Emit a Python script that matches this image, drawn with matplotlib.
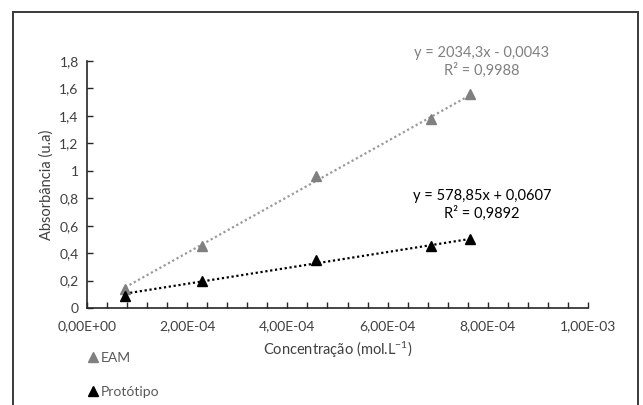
import numpy as np
import matplotlib
matplotlib.use("Agg")
import matplotlib.pyplot as plt
from matplotlib.patches import Rectangle
from matplotlib.transforms import IdentityTransform
from matplotlib.ticker import FuncFormatter, MultipleLocator

plt.rcParams.update({"font.family": ["Lato", "DejaVu Sans"], "font.size": 10,
                     "mathtext.fontset": "custom", "mathtext.rm": "Lato",
                     "mathtext.it": "Lato", "mathtext.default": "regular"})

conc = [7.64e-5, 2.29e-4, 4.58e-4, 6.87e-4, 7.64e-4]
abs_eam = [0.14, 0.45, 0.96, 1.38, 1.56]
abs_proto = [0.09, 0.20, 0.35, 0.45, 0.50]
fit_eam = (2034.3, -0.0043, 0.9988)
fit_proto = (578.85, 0.0607, 0.9892)
names = ["EAM", "Protótipo"]

GRAY = "#808080"
INK = "#262626"
TXT = "#404040"

fig = plt.figure(figsize=(6.43, 4.05), dpi=100)
ax = fig.add_axes([87 / 643, 1 - 308 / 405, (588 - 87) / 643, (308 - 61) / 405])

# outer chart frame
fig.patches.append(Rectangle((13 / 643, -0.05), (638 - 13) / 643, 1.05 - 12 / 405,
                             transform=fig.transFigure, fill=False, lw=1.4,
                             ec="#3a3a3a", clip_on=False))

xs = np.array([conc[0], conc[-1]])
ax.plot(conc, abs_eam, ls="none", marker="^", ms=7, color=GRAY, label=names[0], zorder=3)
ax.plot(conc, abs_proto, ls="none", marker="^", ms=7, color="black", label=names[1], zorder=3)
ax.plot(xs, fit_eam[0] * xs + fit_eam[1], ls=(0, (1, 1.2)), lw=1.6, color="#9a9a9a", zorder=2)
ax.plot(xs, fit_proto[0] * xs + fit_proto[1], ls=(0, (1, 1.2)), lw=1.6, color="black", zorder=2)

def comma(v):
    return str(v).replace(".", ",")

# trendline equations, placed in pixel coordinates
ax.text(482, 405 - 62, f"y = {comma(fit_eam[0])}x - {comma(abs(fit_eam[1]))}\nR² = {comma(fit_eam[2])}",
        transform=IdentityTransform(), color=GRAY, ha="center", va="center",
        fontsize=10.5, linespacing=1.3)
ax.text(482, 405 - 205, f"y = {comma(fit_proto[0])}x + {comma(fit_proto[1])}\nR² = {comma(fit_proto[2])}",
        transform=IdentityTransform(), color="black", ha="center", va="center",
        fontsize=10.5, linespacing=1.3)

ax.set_xlim(0, 1e-3)
ax.set_ylim(0, 1.8)
ax.xaxis.set_major_locator(MultipleLocator(2e-4))
ax.xaxis.set_minor_locator(MultipleLocator(4e-5))
ax.yaxis.set_major_locator(MultipleLocator(0.2))
ax.xaxis.set_major_formatter(FuncFormatter(lambda v, p: f"{v:.2E}".replace(".", ",")))
ax.yaxis.set_major_formatter(FuncFormatter(lambda v, p: f"{round(v, 1):g}".replace(".", ",")))
ax.tick_params(which="both", direction="in", length=4, width=1, color=INK,
               labelcolor=TXT, labelsize=10)
ax.tick_params(axis="x", pad=9)
ax.tick_params(axis="y", pad=6)
for s in ("top", "right"):
    ax.spines[s].set_visible(False)
for s in ("left", "bottom"):
    ax.spines[s].set_color(INK)
    ax.spines[s].set_linewidth(1.2)

ax.set_xlabel("Concentração (mol.L$^{-1}$)", fontsize=10.5, color=TXT, labelpad=5)
ax.set_ylabel("Absorbância (u.a)", fontsize=10.5, color=TXT, labelpad=4)

leg = fig.legend(loc="upper left", bbox_to_anchor=(90 / 643, 1 - 352 / 405), frameon=False,
                 handlelength=0.5, handletextpad=0.3, labelspacing=1.55, fontsize=10,
                 labelcolor="#595959", borderaxespad=0, borderpad=0)
for h in leg.legend_handles:
    h.set_markersize(6.5)

fig.savefig("out.png", dpi=100, facecolor="white")
